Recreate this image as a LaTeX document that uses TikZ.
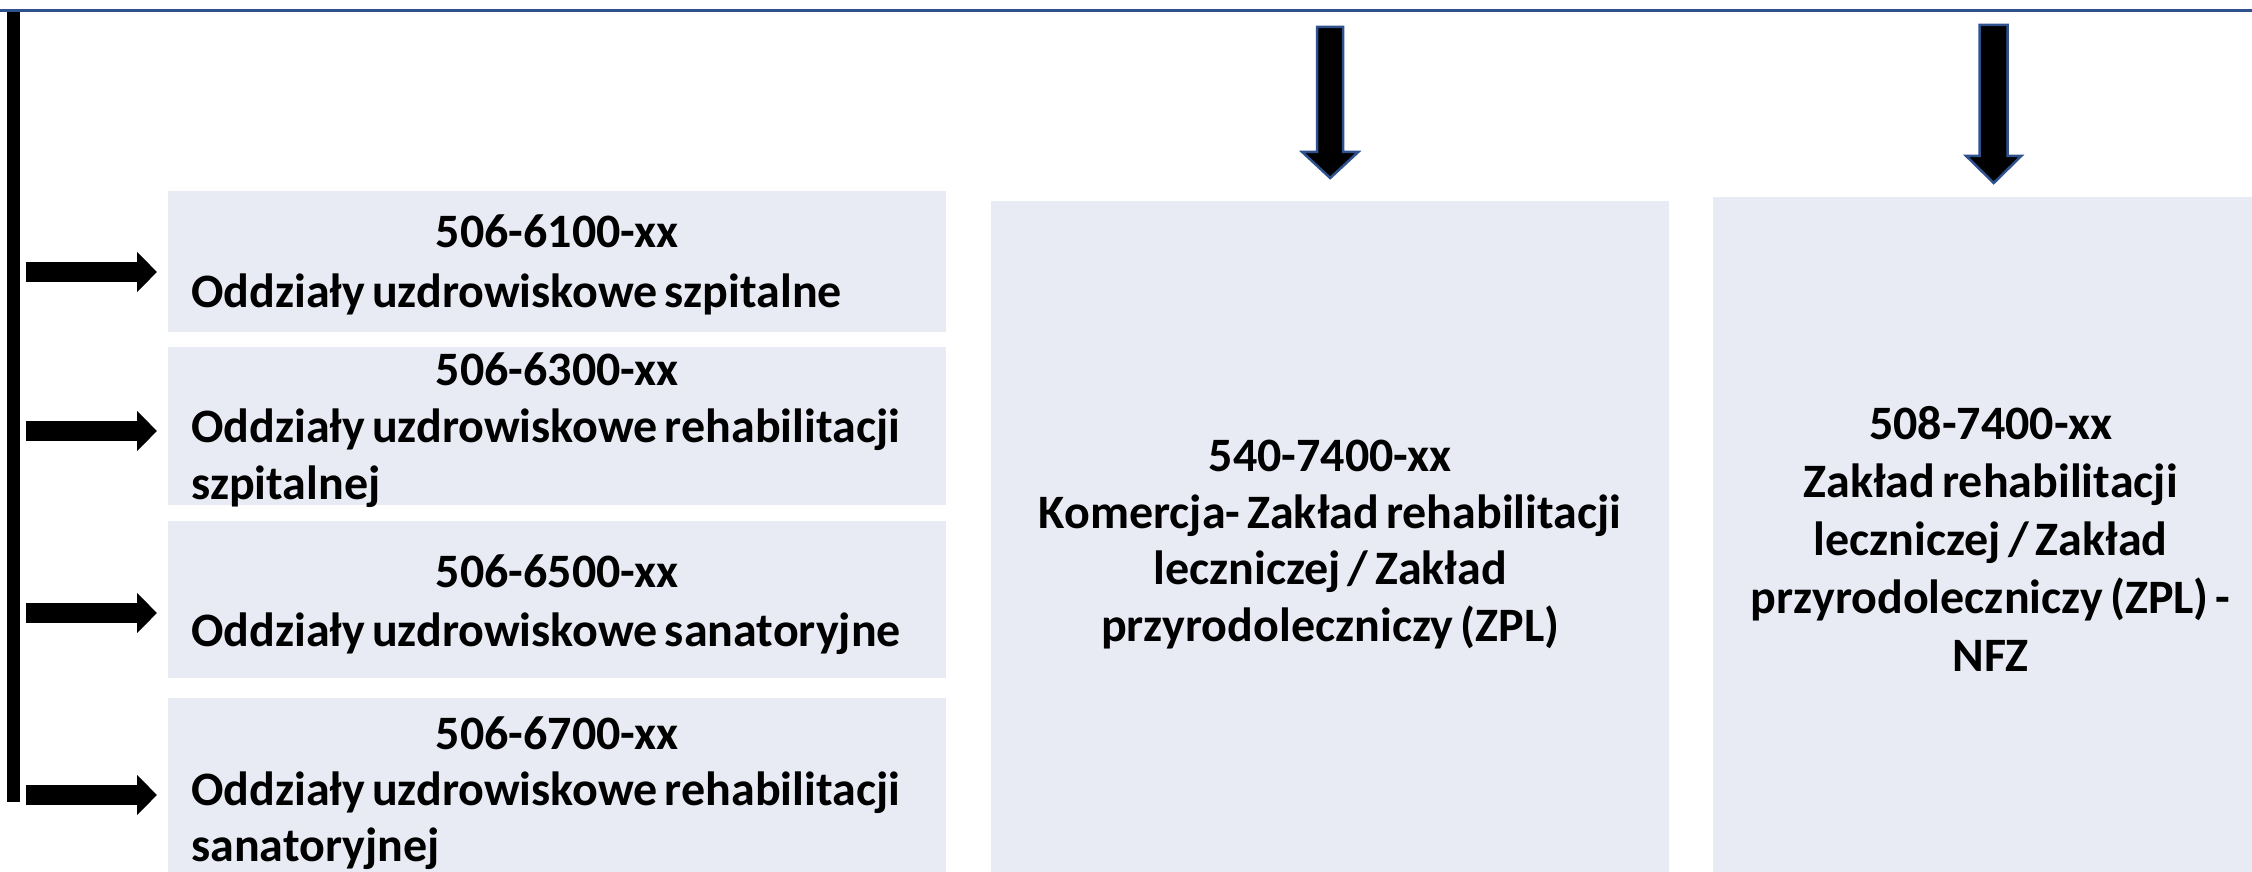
\documentclass[tikz,border=0pt]{standalone}
\usepackage{fontspec}
\setmainfont{Carlito}[WordSpace=0.65]
\usetikzlibrary{arrows.meta,calc}
\definecolor{cardfill}{HTML}{E8EBF4}
\definecolor{rulecol}{HTML}{2F528F}
% centred first line of a ragged paragraph, keeping the font's own word space
\newcommand{\headline}[1]{\spaceskip=0pt\relax\xspaceskip=0pt\relax\hfill #1\hfill\mbox{}}
\begin{document}
\begin{tikzpicture}[x=1pt,y=-1pt,
  card/.style={fill=cardfill, draw=none, inner sep=0pt, anchor=north west},
  cardtext/.style={inner sep=0pt, font=\bfseries\fontsize{48}{#1}\selectfont},
  cardtext/.default=57,
  feed/.style={black, line width=20pt, -{Triangle[length=20pt,width=39pt]}},
  drop/.style={fill=black, draw=rulecol, line width=2.5pt, line join=miter}]
\useasboundingbox (0,0) rectangle (2252,872);

% header rule and the vertical spine on the left
\node[fill=black, inner sep=0pt, minimum width=13pt, minimum height=792pt,
  anchor=north west] (spine) at (7,10) {};
\draw[rulecol, line width=2.5pt] (0,10.5) -- (2252,10.5);

% left column of units
\node[card, minimum width=778pt, minimum height=141pt] (b1) at (168,191) {};
\node[card, minimum width=778pt, minimum height=158pt] (b2) at (168,347) {};
\node[card, minimum width=778pt, minimum height=157pt] (b3) at (168,521) {};
\node[card, minimum width=778pt, minimum height=174pt] (b4) at (168,698) {};

\node[cardtext=60, text width=732pt, align=left] (t1) at ($(b1.center)+(0,3)$)
  {\headline{506-6100-xx}\\ Oddziały uzdrowiskowe szpitalne};
\node[cardtext=57, text width=732pt, align=left] (t2) at ($(b2.center)+(0,4)$)
  {\headline{506-6300-xx}\\ Oddziały uzdrowiskowe rehabilitacji\\ szpitalnej};
\node[cardtext=59, text width=732pt, align=left] (t3) at ($(b3.center)+(0,5)$)
  {\headline{506-6500-xx}\\ Oddziały uzdrowiskowe sanatoryjne};
\node[cardtext=56, text width=732pt, align=left] (t4) at ($(b4.center)+(0,8)$)
  {\headline{506-6700-xx}\\ Oddziały uzdrowiskowe rehabilitacji\\ sanatoryjnej};

% the two treatment units
\node[card, minimum width=678pt, minimum height=671pt] (mid) at (991,201) {};
\node[card, minimum width=539pt, minimum height=675pt] (nfz) at (1713,197) {};

\node[cardtext=56.5, align=center] (tm) at ($(mid.center)+(0,8)$)
  {540-7400-xx\\ Komercja- Zakład rehabilitacji\\ leczniczej / Zakład\\ przyrodoleczniczy (ZPL)};
\node[cardtext=58, align=center] (tn) at ($(nfz.center)+(8,4)$)
  {508-7400-xx\\ Zakład rehabilitacji\\ leczniczej / Zakład\\ przyrodoleczniczy (ZPL) -\\ NFZ};

% horizontal feeds from the spine
\foreach \b/\y in {b1/272, b2/431, b3/613, b4/795}{
  \draw[feed] ($(spine.east |- 0,\y)+(6,0)$) -- ($(\b.west |- 0,\y)+(-11,0)$);
}

% block arrows pointing down into the treatment units
\coordinate (d1) at ($(mid.north)+(0,-23)$);
\draw[drop] (d1) -- ++(28,-26) -- ++(-15,0) -- ++(0,-125) -- ++(-26,0)
  -- ++(0,125) -- ++(-15,0) -- cycle;
\coordinate (d2) at ($(nfz.north)+(11,-14)$);
\draw[drop] (d2) -- ++(27.5,-27) -- ++(-13.5,0) -- ++(0,-131) -- ++(-28,0)
  -- ++(0,131) -- ++(-13.5,0) -- cycle;
\end{tikzpicture}
\end{document}
